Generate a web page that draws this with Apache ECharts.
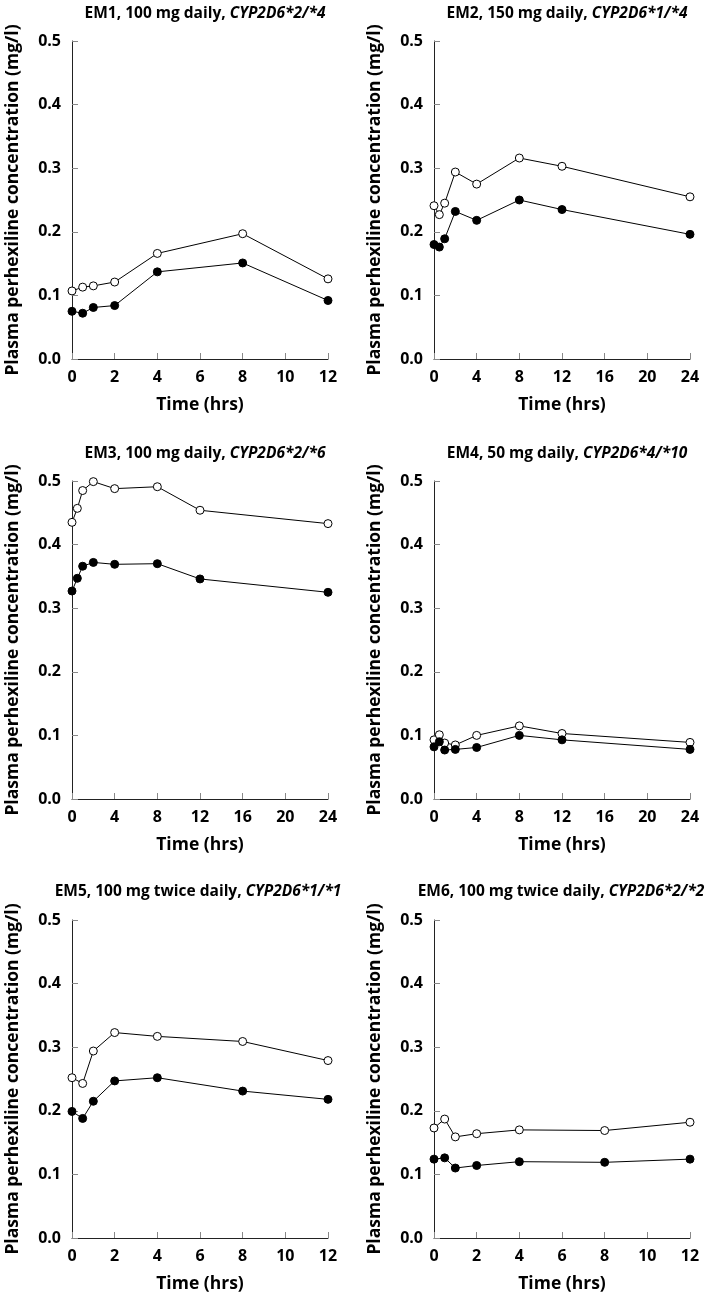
<!DOCTYPE html>
<html>
<head>
<meta charset="utf-8">
<script src="https://cdn.jsdelivr.net/npm/echarts@6/dist/echarts.min.js"></script>
<style>
html,body{margin:0;padding:0;background:#fff;}
#c{width:706px;height:1295px;}
</style>
</head>
<body>
<div id="c"></div>
<script>
// Panel titles
const titlesPlain = ["EM1, 100 mg daily, ", "EM2, 150 mg daily, ", "EM3, 100 mg daily, ", "EM4, 50 mg daily, ", "EM5, 100 mg twice daily, ", "EM6, 100 mg twice daily, "];
const titlesItalic = ["CYP2D6*2/*4", "CYP2D6*1/*4", "CYP2D6*2/*6", "CYP2D6*4/*10", "CYP2D6*1/*1", "CYP2D6*2/*2"];

// Sampling times (hrs)
const times12 = [0, 0.5, 1, 2, 4, 8, 12];
const times24 = [0, 0.5, 1, 2, 4, 8, 12, 24];

// EM1
const em1Open   = [0.107, 0.113, 0.115, 0.121, 0.166, 0.197, 0.126];
const em1Filled = [0.075, 0.072, 0.081, 0.084, 0.137, 0.151, 0.092];
// EM2
const em2Open   = [0.241, 0.227, 0.245, 0.294, 0.275, 0.316, 0.303, 0.255];
const em2Filled = [0.180, 0.176, 0.189, 0.232, 0.218, 0.250, 0.235, 0.196];
// EM3
const em3Open   = [0.435, 0.457, 0.485, 0.499, 0.488, 0.491, 0.454, 0.433];
const em3Filled = [0.327, 0.347, 0.366, 0.372, 0.369, 0.370, 0.346, 0.325];
// EM4
const em4Open   = [0.093, 0.101, 0.088, 0.085, 0.100, 0.115, 0.103, 0.089];
const em4Filled = [0.082, 0.090, 0.077, 0.078, 0.081, 0.100, 0.093, 0.078];
// EM5
const em5Open   = [0.252, 0.243, 0.294, 0.323, 0.317, 0.309, 0.279];
const em5Filled = [0.199, 0.188, 0.215, 0.247, 0.252, 0.231, 0.218];
// EM6
const em6Open   = [0.173, 0.187, 0.159, 0.164, 0.170, 0.169, 0.182];
const em6Filled = [0.124, 0.126, 0.110, 0.114, 0.120, 0.119, 0.124];

// Axis settings
const yTicks = ["0.0", "0.1", "0.2", "0.3", "0.4", "0.5"];
const xMaxes = [12, 24, 24, 24, 12, 12];
const xIntervals = [2, 4, 4, 4, 2, 2];

const panelTimes = [times12, times24, times24, times24, times12, times12];
const panelOpen = [em1Open, em2Open, em3Open, em4Open, em5Open, em6Open];
const panelFilled = [em1Filled, em2Filled, em3Filled, em4Filled, em5Filled, em6Filled];

// Layout (pixels)
const lefts = [72, 434, 72, 434, 72, 434];
const widths = [256, 256, 256, 256, 256, 256];
const tops = [41, 41, 481, 481, 920, 920];
const height = 318;
const titleY = [1, 1, 441, 441, 879, 879];
const titleShift = [0, 0, 0, 0, -7, -6];

const FONT = '"Open Sans", Lato, sans-serif';

const chart = echarts.init(document.getElementById('c'), null, {renderer: 'canvas'});

const grids = [], xAxes = [], yAxes = [], series = [], titles = [];
for (let i = 0; i < 6; i++) {
  grids.push({left: lefts[i], top: tops[i], width: widths[i], height: height, containLabel: false});
  titles.push({
    text: '{a|' + titlesPlain[i] + '}{b|' + titlesItalic[i] + '}',
    left: lefts[i] + widths[i] / 2 + titleShift[i],
    top: titleY[i],
    textAlign: 'center',
    textStyle: {
      rich: {
        a: {fontFamily: FONT, fontWeight: 'bold', fontSize: 15.5, color: '#000'},
        b: {fontFamily: FONT, fontWeight: 'bold', fontStyle: 'italic', fontSize: 15.5, color: '#000'}
      }
    }
  });
  xAxes.push({
    type: 'value', gridIndex: i, min: 0, max: xMaxes[i], interval: xIntervals[i],
    name: 'Time (hrs)', nameLocation: 'middle', nameGap: 37,
    nameTextStyle: {fontFamily: FONT, fontWeight: 'bold', fontSize: 17.5, color: '#000'},
    axisLine: {show: true, lineStyle: {color: '#222', width: 1}},
    axisTick: {show: true, inside: true, length: 6, lineStyle: {color: '#888', width: 1}},
    axisLabel: {fontFamily: FONT, fontWeight: 'bold', fontSize: 16, color: '#000', margin: 10},
    splitLine: {show: false}
  });
  yAxes.push({
    type: 'value', gridIndex: i, min: 0, max: 0.5, interval: 0.1,
    name: 'Plasma perhexiline concentration (mg/l)', nameLocation: 'middle', nameGap: 50,
    nameTextStyle: {fontFamily: FONT, fontWeight: 'bold', fontSize: 17.5, color: '#000'},
    axisLine: {show: true, lineStyle: {color: '#222', width: 1}},
    axisTick: {show: true, inside: true, length: 6, lineStyle: {color: '#888', width: 1}},
    axisLabel: {fontFamily: FONT, fontWeight: 'bold', fontSize: 16, color: '#000', margin: 11,
      formatter: function (v) { return yTicks[Math.round(v * 10)]; }},
    splitLine: {show: false}
  });
  const t = panelTimes[i];
  series.push({
    type: 'line', xAxisIndex: i, yAxisIndex: i,
    data: t.map((x, k) => [x, panelOpen[i][k]]),
    symbol: 'circle', symbolSize: 8, showSymbol: true,
    lineStyle: {color: '#000', width: 1},
    itemStyle: {color: '#fff', borderColor: '#000', borderWidth: 1},
    animation: false, z: 3
  });
  series.push({
    type: 'line', xAxisIndex: i, yAxisIndex: i,
    data: t.map((x, k) => [x, panelFilled[i][k]]),
    symbol: 'circle', symbolSize: 8, showSymbol: true,
    lineStyle: {color: '#000', width: 1},
    itemStyle: {color: '#000', borderColor: '#000', borderWidth: 1},
    animation: false, z: 3
  });
}

chart.setOption({
  backgroundColor: '#fff',
  animation: false,
  title: titles,
  grid: grids,
  xAxis: xAxes,
  yAxis: yAxes,
  series: series
});
</script>
</body>
</html>
